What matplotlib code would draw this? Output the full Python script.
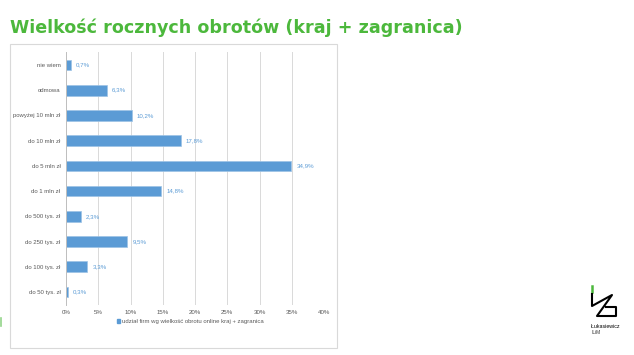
import matplotlib.pyplot as plt
from matplotlib.patches import Rectangle
from matplotlib.lines import Line2D

# data
categories = ["do 50 tys. zł", "do 100 tys. zł", "do 250 tys. zł", "do 500 tys. zł",
              "do 1 mln zł", "do 5 mln zł", "do 10 mln zł", "powyżej 10 mln zł",
              "odmowa", "nie wiem"]
values = [0.3, 3.3, 9.5, 2.3, 14.8, 34.9, 17.8, 10.2, 6.3, 0.7]
labels = ["0,3%", "3,3%", "9,5%", "2,3%", "14,8%", "34,9%", "17,8%", "10,2%", "6,3%", "0,7%"]
xticks = [0, 5, 10, 15, 20, 25, 30, 35, 40]
series_name = "udział firm wg wielkość obrotu online kraj + zagranica"

W, H = 634, 355
fig = plt.figure(figsize=(W / 100, H / 100), dpi=100)
fig.patch.set_facecolor("white")
small = "Liberation Sans"

def fx(px):
    return px / W

def fy(py):
    return 1 - py / H

# title
fig.text(fx(10), fy(28), "Wielkość rocznych obrotów (kraj + zagranica)",
         fontsize=12.6, fontweight="bold", color="#4cb83c", va="center", ha="left")

# chart box
fig.patches.append(Rectangle((fx(10), fy(348)), fx(337) - fx(10), fy(44) - fy(348),
                             transform=fig.transFigure, fill=False,
                             edgecolor="#d9d9d9", linewidth=0.8))

ax = fig.add_axes([fx(66), fy(304.6), fx(324) - fx(66), fy(52.4) - fy(304.6)])
blue = "#5b9bd5"
y = list(range(len(categories)))
ax.barh(y, values, height=0.42, color=blue, edgecolor="#9dc3e6", linewidth=0.5)
for yi, v, lab in zip(y, values, labels):
    ax.text(v + 0.8, yi, lab, fontsize=4.4, color=blue, va="center", ha="left",
            family=small)

ax.set_xlim(0, 40)
ax.set_ylim(-0.5, len(categories) - 0.5)
ax.set_yticks(y)
ax.set_yticklabels(categories, fontsize=4.3, color="#595959", family=small)
ax.set_xticks(xticks)
ax.set_xticklabels([f"{t}%" for t in xticks], fontsize=4.4, color="#595959", family=small)
ax.tick_params(length=0, pad=4)
ax.grid(axis="x", color="#d9d9d9", linewidth=0.7)
ax.set_axisbelow(True)
for s in ["top", "right", "bottom"]:
    ax.spines[s].set_visible(False)
ax.spines["left"].set_color("#bfbfbf")
ax.spines["left"].set_linewidth(0.7)

# legend
fig.patches.append(Rectangle((fx(117), fy(322.5)), fx(3), fy(319) - fy(322.5),
                             transform=fig.transFigure, color=blue))
fig.text(fx(122), fy(321), series_name, fontsize=4.3, color="#595959",
         va="center", ha="left", family=small)

# small green mark on left edge
fig.lines.append(Line2D([fx(1), fx(1)], [fy(318), fy(326)], transform=fig.transFigure,
                        color="#4cb83c", linewidth=1.2, alpha=0.6))

# logo
fig.lines.append(Line2D([fx(592), fx(592)], [fy(286), fy(292)], transform=fig.transFigure,
                        color="#4cb83c", linewidth=1.8))
fig.lines.append(Line2D([fx(592), fx(592), fx(612), fx(597), fx(616), fx(616), fx(606)],
                        [fy(294), fy(306), fy(295), fy(316), fy(316), fy(307), fy(307)],
                        transform=fig.transFigure, color="black", linewidth=1.5))
fig.text(fx(591), fy(326), "Łukasiewicz", fontsize=3.8, color="black", va="center",
         ha="left", family=small)
fig.text(fx(591), fy(333), "ILiM", fontsize=3.5, color="#333333", va="center",
         ha="left", family=small)

fig.savefig("out.png", dpi=100)
